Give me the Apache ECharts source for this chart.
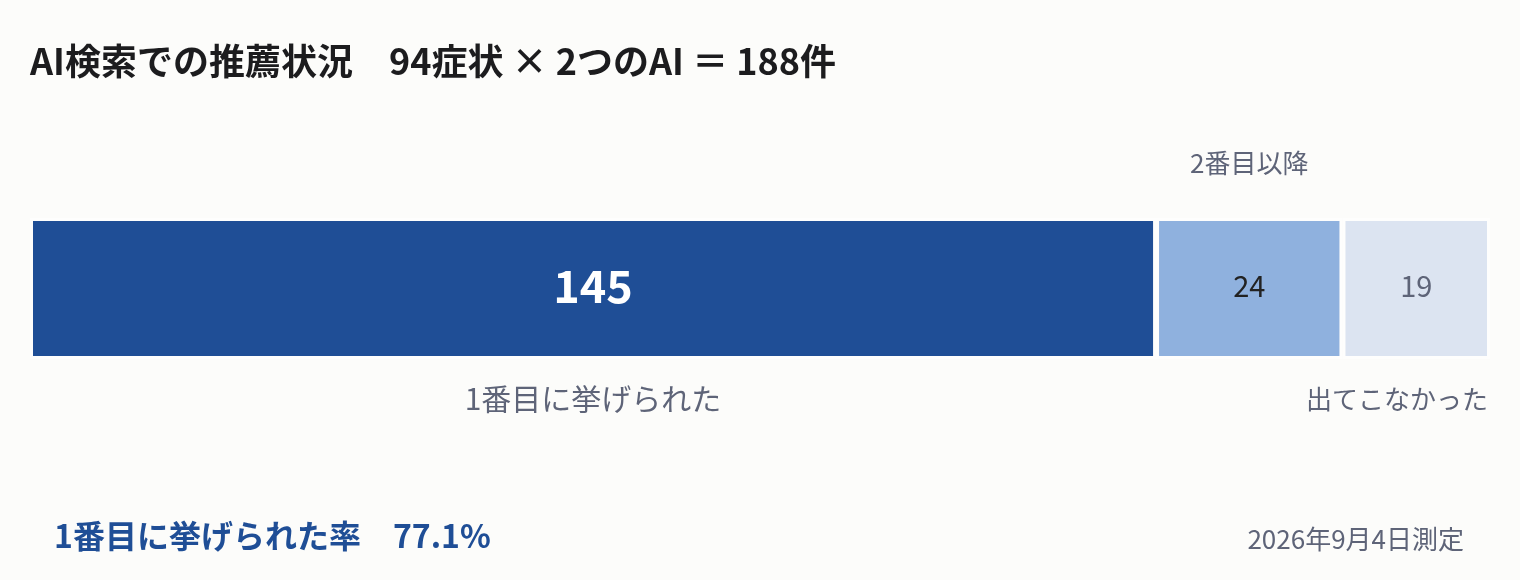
<!DOCTYPE html>
<html>
<head>
<meta charset="utf-8">
<script src="https://cdn.jsdelivr.net/npm/echarts@6/dist/echarts.min.js"></script>
<style>
  html, body { margin: 0; padding: 0; background: #fcfcfa; }
  #main { width: 1520px; height: 580px; }
</style>
</head>
<body>
<div id="main"></div>
<script>
// 回答の内訳（94症状 × 2つのAI）
var categories = ['1番目に挙げられた', '2番目以降', '出てこなかった'];
var values = [145, 24, 19];
var titleText = 'AI検索での推薦状況　94症状 × 2つのAI ＝ 188件';
var dateText = '2026年9月4日測定';

var total = values.reduce(function (a, b) { return a + b; }, 0);
var rate = (values[0] / total * 100).toFixed(1);

var FONT = '"Noto Sans CJK JP", "Noto Sans", sans-serif';
var colors = ['#1f4e96', '#8fb1de', '#dce4f1'];
var valueStyles = [
  { color: '#ffffff', fontSize: 45, fontWeight: 'bold' },
  { color: '#222222', fontSize: 29, fontWeight: 'normal' },
  { color: '#5e6478', fontSize: 29, fontWeight: 'normal' }
];
// 名前ラベルの位置（上 / 下）
var nameLabels = [
  { offsetY: 110, fontSize: 30, align: 'center', at: 'middle' },
  { offsetY: -125, fontSize: 26, align: 'center', at: 'middle' },
  { offsetY: 111, fontSize: 26, align: 'right', at: 'end' }
];

var chart = echarts.init(document.getElementById('main'));

var start = 0;
var series = values.map(function (v, i) {
  var nl = nameLabels[i];
  var x = nl.at === 'end' ? start + v : start + v / 2;
  start += v;
  return {
    name: categories[i],
    type: 'bar',
    stack: 'total',
    barWidth: '100%',
    data: [v],
    itemStyle: {
      color: colors[i],
      borderColor: '#fefefd',
      borderWidth: 3
    },
    label: {
      show: true,
      position: 'inside',
      offset: [0, -3],
      fontFamily: FONT,
      color: valueStyles[i].color,
      fontSize: valueStyles[i].fontSize,
      fontWeight: valueStyles[i].fontWeight
    },
    markPoint: {
      symbol: 'circle',
      symbolSize: 1,
      silent: true,
      itemStyle: { color: 'transparent' },
      label: {
        show: true,
        position: 'inside',
        formatter: categories[i],
        fontFamily: FONT,
        fontSize: nl.fontSize,
        color: '#5e6478',
        align: nl.align,
        offset: [nl.align === 'right' ? -2 : 0, nl.offsetY]
      },
      data: [{ coord: [x, 0] }]
    }
  };
});

var option = {
  backgroundColor: '#fcfcfa',
  animation: false,
  title: [{
    text: titleText,
    left: 25,
    top: 38,
    textStyle: { fontFamily: FONT, fontSize: 36, fontWeight: 'bold', color: '#1c1c1e' }
  }, {
    text: '1番目に挙げられた率　' + rate + '%',
    left: 49,
    top: 515,
    textStyle: { fontFamily: FONT, fontSize: 32, fontWeight: 'bold', color: '#1f4e96' }
  }, {
    text: dateText,
    right: 51,
    top: 521,
    textStyle: { fontFamily: FONT, fontSize: 26, fontWeight: 'normal', color: '#5e6478' }
  }],
  grid: { left: 30, right: 30, top: 218, height: 141, containLabel: false },
  xAxis: { type: 'value', min: 0, max: total, show: false },
  yAxis: { type: 'category', data: ['AI'], show: false },
  series: series
};
chart.setOption(option);
</script>
</body>
</html>
